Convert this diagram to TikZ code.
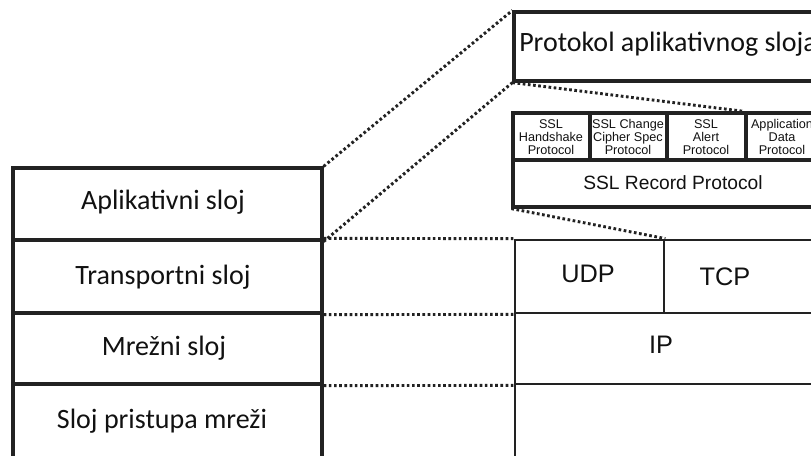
\documentclass[tikz,border=0pt]{standalone}
\usepackage{fontspec}
\setmainfont{Carlito}
\newfontfamily\arialf{Liberation Sans}
\usetikzlibrary{fit}
\definecolor{edge}{HTML}{222222}
\definecolor{ink}{HTML}{111111}
\begin{document}
\begin{tikzpicture}[x=0.75pt,y=-0.75pt,
  layer/.style={draw=edge, line width=2.4pt, inner sep=0pt},
  proto/.style={draw=edge, line width=2.1pt, inner sep=0pt},
  dotline/.style={draw=edge, line width=2.2pt, dash pattern=on 2pt off 1.9pt},
  osi/.style={text=ink, font=\fontsize{21}{24}\selectfont, inner sep=0pt},
  big/.style={text=ink, font=\arialf\fontsize{19}{22}\selectfont, inner sep=0pt},
  rec/.style={text=ink, font=\arialf\fontsize{14.4}{17}\selectfont, inner sep=0pt},
  tiny/.style={text=ink, font=\arialf\fontsize{9.5}{9.8}\selectfont, align=center, inner sep=0pt}]
\useasboundingbox (0,0) rectangle (811,455);
\clip (0,0) rectangle (811,455);

% left stack of layers
\node[layer, fit={(13,168)(322,240)}] (app) {};
\node[layer, fit={(13,240)(322,313)}] (trans) {};
\node[layer, fit={(13,313)(322,384)}] (net) {};
\node[layer, fit={(13,384)(322,480)}] (acc) {};
\node[osi] at (163,202) (tapp) {Aplikativni sloj};
\node[osi] at (163,277) (ttrans) {Transportni sloj};
\node[osi] at (164,348) (tnet) {Mrežni sloj};
\node[osi] at (162,421) (tacc) {Sloj pristupa mreži};

% application protocol box
\node[layer, fit={(514,12)(840,81)}] (apbox) {};
\node[osi, anchor=west] at (519,44) (tap) {Protokol aplikativnog sloja};

% SSL sub-protocols
\node[layer, fit={(513,113)(590,160)}] (hs) {};
\node[layer, fit={(590,113)(667,160)}] (ccs) {};
\node[layer, fit={(667,113)(746,160)}] (alert) {};
\node[layer, fit={(746,113)(819,160)}] (appdata) {};
\node[layer, fit={(513,160)(840,207)}] (record) {};
\node[tiny] at (551,137) {SSL\\Handshake\\Protocol};
\node[tiny] at (628,137) {SSL Change\\Cipher Spec\\Protocol};
\node[tiny] at (706,137) {SSL\\Alert\\Protocol};
\node[tiny] at (782,137) {Application\\Data\\Protocol};
\node[rec] at (673,183) {SSL Record Protocol};

% transport, network and access on the right
\node[proto, fit={(515,240)(664,313)}] (udp) {};
\node[proto, fit={(664,240)(840,313)}] (tcp) {};
\node[proto, fit={(515,313)(840,384)}] (ip) {};
\node[proto, fit={(515,384)(840,480)}] (link) {};
\node[big] at (588,274) {UDP};
\node[big] at (725,277) {TCP};
\node[big] at (661,345) {IP};

% dotted guide lines
\draw[dotline] (app.north east) -- (apbox.north west);
\draw[dotline] (app.south east) -- (apbox.south west);
\draw[dotline] (apbox.south west) -- (appdata.north west);
\draw[dotline] (record.south west) -- (udp.north east);
\draw[dotline] (trans.north east) -- (udp.north west);
\draw[dotline] (trans.south east) -- (udp.south west);
\draw[dotline] (net.south east) -- (ip.south west);
\end{tikzpicture}
\end{document}
